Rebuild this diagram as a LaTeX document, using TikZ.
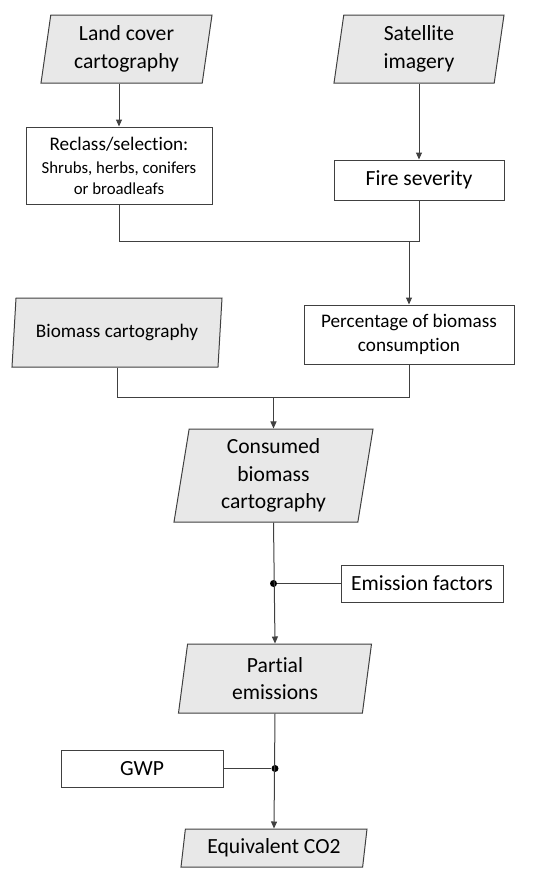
\documentclass[tikz,border=0pt]{standalone}
\usepackage{fontspec}
\setmainfont{Carlito}[Ligatures=NoCommon]
\usetikzlibrary{arrows.meta,shapes.geometric}

\definecolor{fillgray}{HTML}{E8E8E8}
\definecolor{linegray}{HTML}{404040}

\newcommand{\bigtxt}{\fontsize{10.8}{13.8}\selectfont}
\newcommand{\midtxt}{\fontsize{9.6}{12.2}\selectfont}
\newcommand{\smltxt}{\fontsize{8.4}{10.5}\selectfont}

\begin{document}
\begin{tikzpicture}[
  x=0.5pt, y=-0.5pt,
  font=\bigtxt,
  box/.style={draw=linegray, line width=0.5pt, fill=white, align=center,
              inner sep=1pt},
  para/.style={trapezium, trapezium left angle=79, trapezium right angle=101,
               trapezium stretches body, draw=linegray, line width=0.5pt,
               fill=fillgray, align=center, inner sep=1pt},
  arr/.style={-{Triangle[length=3.5pt,width=3pt]}, line width=0.5pt, draw=linegray},
  ln/.style={line width=0.5pt, draw=linegray},
  dot/.style={circle, fill=black, inner sep=0pt, minimum size=3.5pt}
]
\useasboundingbox (0,0) rectangle (550,879);

\node[para, minimum width=85.5pt, minimum height=34pt] (land) at (126.5,49) {Land cover\\cartography};
\node[para, minimum width=85pt, minimum height=34pt] (sat) at (419,49) {Satellite\\imagery};
\node[box, font=\smltxt, minimum width=93pt, minimum height=38.5pt] (reclass) at (119,165.5)
  {{\midtxt Reclass/selection:}\\[1pt]Shrubs, herbs, conifers\\or broadleafs};
\node[box, minimum width=85pt, minimum height=20pt] (fire) at (419,180) {Fire severity};
\node[para, font=\midtxt, minimum width=105pt, minimum height=34.5pt] (biomass) at (117,332.5) {Biomass cartography};
\node[box, font=\midtxt, minimum width=105pt, minimum height=29.5pt] (pct) at (409,334.5)
  {Percentage of biomass\\consumption};
\node[para, minimum width=99.5pt, minimum height=46.5pt] (consumed) at (273.5,475.5)
  {Consumed\\biomass\\cartography};
\node[box, minimum width=81pt, minimum height=18.5pt] (emis) at (422,583.5) {Emission factors};
\node[para, minimum width=96.5pt, minimum height=34.5pt] (partial) at (275,678.5) {Partial\\emissions};
\node[box, minimum width=81pt, minimum height=18.5pt] (gwp) at (142,768.5) {GWP};
\node[para, minimum width=93pt, minimum height=19pt] (co2) at (274,848) {Equivalent CO2};

% merging points
\coordinate (m1) at (0,241);
\coordinate (m2) at (0,397);

\draw[arr] (reclass.north |- land.south) -- (reclass.north);
\draw[arr] (fire.north |- sat.south) -- (fire.north);
\draw[ln] (reclass.south) |- (fire.south |- m1) -- (fire.south);
\draw[arr] (pct.north |- m1) -- (pct.north);

\draw[ln] (biomass.center |- biomass.south) |- (pct.south |- m2) -- (pct.south);
\draw[arr] (consumed.center |- m2) -- (consumed.center |- consumed.north);

\node[dot] (d1) at (consumed.center |- emis.west) {};
\draw[arr] (consumed.center |- consumed.south) -- (partial.center |- partial.north);
\draw[ln] (emis.west) -- (d1);

\node[dot] (d2) at (partial.center |- gwp.east) {};
\draw[arr] (partial.center |- partial.south) -- (co2.center |- co2.north);
\draw[ln] (gwp.east) -- (d2);
\end{tikzpicture}
\end{document}
